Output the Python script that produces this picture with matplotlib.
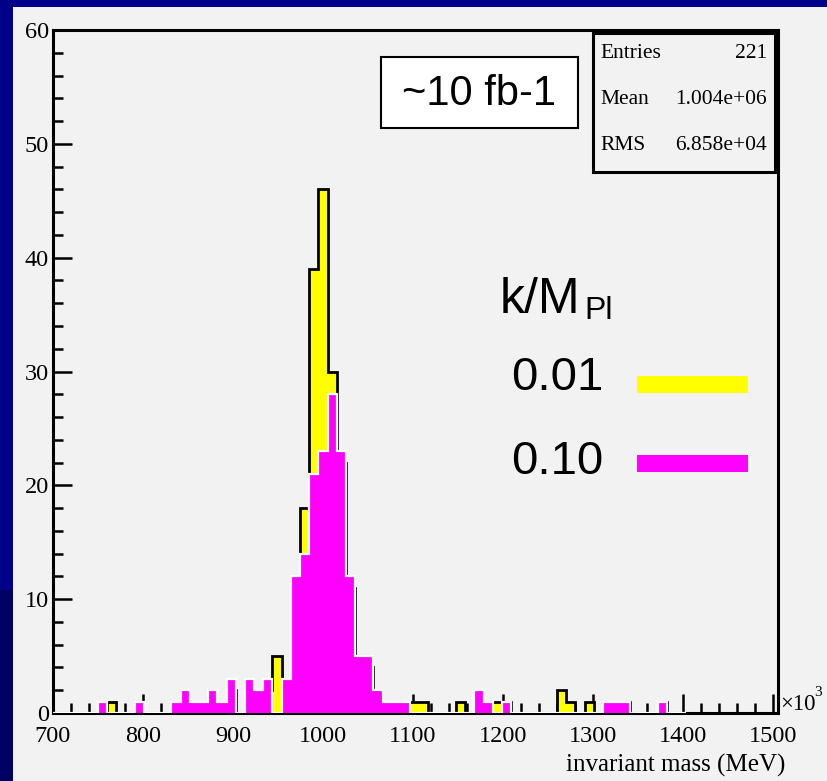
import numpy as np
import matplotlib
matplotlib.use("Agg")
import matplotlib.pyplot as plt
from matplotlib.patches import Rectangle

W, H = 827, 781

# binning of the mass histograms (x in units of 10^3 MeV)
bin_lo = 699.0
bin_width = 10.2

# k/M_Pl = 0.01  (80 bins)
counts_001 = [
    0, 0, 0, 0, 0, 0, 1, 0, 0, 0,
    0, 0, 0, 0, 1, 0, 0, 1, 0, 2,
    0, 2, 1, 2, 5, 2, 11, 18, 39, 46,
    30, 22, 11, 4, 4, 1, 1, 1, 1, 1,
    1, 0, 0, 0, 1, 0, 1, 1, 1, 1,
    0, 0, 0, 0, 0, 2, 1, 0, 1, 0,
    1, 1, 1, 0, 0, 0, 1, 0, 0, 0,
    0, 0, 0, 0, 0, 0, 0, 0, 0, 0,
]

# k/M_Pl = 0.10  (69 bins)
counts_010 = [
    0, 0, 0, 0, 0, 1, 0, 0, 0, 1,
    0, 0, 0, 1, 2, 1, 1, 2, 1, 3,
    0, 3, 2, 3, 0, 3, 12, 14, 21, 23,
    28, 23, 12, 5, 5, 2, 1, 1, 1, 0,
    0, 0, 0, 0, 0, 0, 2, 1, 0, 1,
    0, 0, 0, 0, 0, 0, 0, 0, 0, 0,
    1, 1, 1, 0, 0, 0, 1, 0, 0,
]

coupling_labels = ["0.01", "0.10"]
stats_names = ["Entries", "Mean", "RMS"]
stats_values = ["221", "1.004e+06", "6.858e+04"]

x_ticks = np.arange(700, 1501, 100)
y_ticks = np.arange(0, 61, 10)

YELLOW = "#ffff00"
MAGENTA = "#ff00ff"
PANEL = "#f2f2f2"
SERIF = "Liberation Serif"
SANS = "Liberation Sans"


def fx(x):
    return x / W


def fy(y):
    return 1 - y / H


fig = plt.figure(figsize=(W / 100, H / 100), dpi=100)
fig.patch.set_facecolor("#000088")
fig.add_artist(Rectangle((0, 0), fx(13), fy(590), transform=fig.transFigure,
                         facecolor="#000062", edgecolor="none", zorder=-2))
fig.add_artist(Rectangle((fx(13), 0), 1 - fx(13), fy(7), transform=fig.transFigure,
                         facecolor=PANEL, edgecolor="none", zorder=-1))

ax = fig.add_axes([fx(53), fy(713), fx(778) - fx(53), fy(30) - fy(713)])
ax.set_facecolor(PANEL)

edges_001 = bin_lo + bin_width * np.arange(len(counts_001) + 1)
edges_010 = bin_lo + bin_width * np.arange(len(counts_010) + 1)
ax.stairs(counts_001, edges_001, fill=True, facecolor=YELLOW, edgecolor="black",
          linewidth=2.0, zorder=3)
ax.stairs(counts_010, edges_010, fill=True, facecolor=MAGENTA, edgecolor="white",
          linewidth=1.6, zorder=4)

ax.set_xlim(700, 700 + (778 - 53) / 0.9)
ax.set_ylim(0, 60)
ax.set_xticks(x_ticks)
ax.set_xticks(np.arange(700, 1501, 20), minor=True)
ax.set_yticks(y_ticks)
ax.set_yticks(np.arange(0, 61, 2), minor=True)
ax.tick_params(which="both", direction="in", color="black", width=1.8)
ax.tick_params(which="major", length=14)
ax.tick_params(which="minor", length=7)
ax.tick_params(axis="x", pad=9)
ax.tick_params(axis="y", pad=3)
for lab in ax.get_xticklabels() + ax.get_yticklabels():
    lab.set_fontfamily(SERIF)
    lab.set_fontsize(17.5)
for sp in ax.spines.values():
    sp.set_linewidth(2.2)

fig.text(fx(785), fy(765), "invariant mass (MeV)", ha="right", va="center",
         family=SERIF, fontsize=18)
fig.text(fx(780), fy(705), "\u00d710", ha="left", va="center", family=SERIF, fontsize=16.5)
fig.text(fx(814), fy(692), "3", ha="left", va="center", family=SERIF, fontsize=11)

# stats box
fig.add_artist(Rectangle((fx(593), fy(172)), fx(775) - fx(593), fy(33) - fy(172),
                         transform=fig.transFigure, facecolor=PANEL,
                         edgecolor="black", linewidth=2.2, zorder=5))
for i, (name, val) in enumerate(zip(stats_names, stats_values)):
    yy = 54 + 46 * i
    fig.text(fx(600), fy(yy), name, ha="left", va="center", family=SERIF,
             fontsize=15.5, zorder=6)
    fig.text(fx(767), fy(yy), val, ha="right", va="center", family=SERIF,
             fontsize=15.5, zorder=6)

# luminosity label
fig.add_artist(Rectangle((fx(381), fy(128)), fx(578) - fx(381), fy(57) - fy(128),
                         transform=fig.transFigure, facecolor="white",
                         edgecolor="black", linewidth=1.5, zorder=5))
fig.text(fx(479), fy(94), "~10 fb-1", ha="center", va="center", family=SANS,
         fontsize=30, zorder=6)

# coupling legend
fig.text(fx(500), fy(313), "k/M", ha="left", va="baseline", family=SANS, fontsize=36)
fig.text(fx(584), fy(319), "Pl", ha="left", va="baseline", family=SANS, fontsize=23)
for lab, col, yc, (b_top, b_bot) in zip(coupling_labels, [YELLOW, MAGENTA], [378, 462],
                                        [(376, 393), (455, 472)]):
    fig.text(fx(511), fy(yc), lab, ha="left", va="center", family=SANS, fontsize=34)
    fig.add_artist(Rectangle((fx(637), fy(b_bot)), fx(748) - fx(637), fy(b_top) - fy(b_bot),
                             transform=fig.transFigure, facecolor=col,
                             edgecolor="none"))

fig.savefig("out.png", dpi=100, facecolor=fig.get_facecolor())
